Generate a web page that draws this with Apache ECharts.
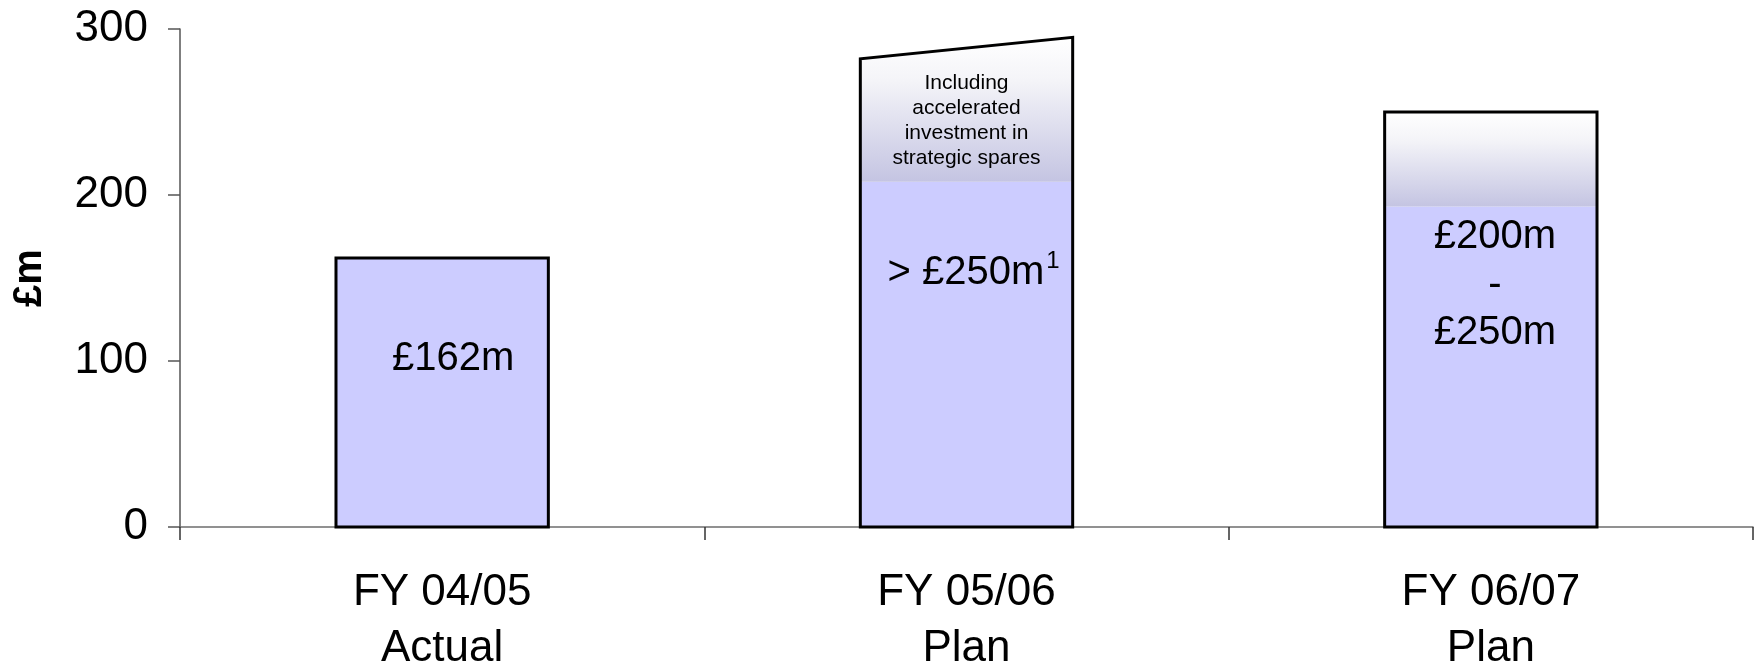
<!DOCTYPE html>
<html>
<head>
<meta charset="utf-8">
<script src="https://cdn.jsdelivr.net/npm/echarts@6/dist/echarts.min.js"></script>
<style>
  html, body { margin: 0; padding: 0; background: #ffffff; }
  #chart { width: 1755px; height: 664px; }
</style>
</head>
<body>
<div id="chart"></div>
<script>
// Capital expenditure by financial year, £m
const categories = ['FY 04/05\nActual', 'FY 05/06\nPlan', 'FY 06/07\nPlan'];
// Solid (committed) part of each bar
const solidValues = [162, 208, 193];
// Top of each bar's outline at its left and right edge (FY 05/06 rises to the right)
const topLeftValues = [162, 282, 250];
const topRightValues = [162, 295, 250];
const yTicks = [0, 100, 200, 300];
const barLabels = ['£162m', '> £250m{sup|1}', '£200m\n-\n£250m'];
const noteText = 'Including\naccelerated\ninvestment in\nstrategic spares';

const FONT = '"Liberation Sans", Arial, Helvetica, sans-serif';

// Where the in-bar labels sit: anchor on the value axis and nudge to the right
const labelAnchor = [101, 153, 146];
const labelShift = [11, 7, 4];
const noteAnchor = 245;

const seriesData = categories.map((c, i) => [i, solidValues[i], topLeftValues[i], topRightValues[i]]);

function renderBar(params, api) {
  const idx = api.value(0);
  const base = api.coord([idx, 0]);
  const cx = base[0];
  const y0 = base[1];
  const bw = api.size([1, 0])[0] * 0.405;
  const xl = cx - bw / 2;
  const xr = cx + bw / 2;
  const ySolid = api.coord([idx, api.value(1)])[1];
  const yTL = api.coord([idx, api.value(2)])[1];
  const yTR = api.coord([idx, api.value(3)])[1];

  const children = [
    {
      type: 'rect',
      shape: { x: xl, y: ySolid, width: bw, height: y0 - ySolid },
      style: { fill: '#CCCCFF' }
    }
  ];

  if (api.value(2) > api.value(1)) {
    children.push({
      type: 'polygon',
      shape: { points: [[xl, ySolid], [xl, yTL], [xr, yTR], [xr, ySolid]] },
      style: {
        fill: new echarts.graphic.LinearGradient(0, 0, 0, 1, [
          { offset: 0, color: '#FFFFFF' },
          { offset: 0.3, color: '#F4F4F8' },
          { offset: 1, color: '#C4C4E2' }
        ])
      }
    });
  }

  children.push({
    type: 'polygon',
    shape: { points: [[xl, y0], [xl, yTL], [xr, yTR], [xr, y0]] },
    style: { fill: 'none', stroke: '#000000', lineWidth: 3, lineJoin: 'miter' }
  });

  const ly = api.coord([idx, labelAnchor[idx]])[1];
  children.push({
    type: 'text',
    x: cx + labelShift[idx],
    y: ly,
    style: {
      text: barLabels[idx],
      fontFamily: FONT,
      fontSize: 40,
      lineHeight: 48,
      fill: '#000000',
      align: 'center',
      verticalAlign: 'middle',
      rich: {
        sup: { fontFamily: FONT, fontSize: 24, lineHeight: 48, verticalAlign: 'top', padding: [0, 0, 0, 2] }
      }
    }
  });

  if (idx === 1) {
    children.push({
      type: 'text',
      x: cx,
      y: api.coord([idx, noteAnchor])[1],
      style: {
        text: noteText,
        fontFamily: FONT,
        fontSize: 21,
        lineHeight: 25,
        fill: '#000000',
        align: 'center',
        verticalAlign: 'middle'
      }
    });
  }

  return { type: 'group', children: children };
}

const chart = echarts.init(document.getElementById('chart'), null, { renderer: 'canvas' });

chart.setOption({
  animation: false,
  backgroundColor: '#ffffff',
  grid: { left: 180, right: 2, top: 29, bottom: 137, containLabel: false, outerBoundsMode: 'none' },
  xAxis: {
    type: 'category',
    data: categories,
    boundaryGap: true,
    axisLine: { show: true, lineStyle: { color: '#6e6e6e', width: 1.5 } },
    axisTick: { show: true, alignWithLabel: false, length: 13, lineStyle: { color: '#333333', width: 1.5 } },
    axisLabel: {
      fontFamily: FONT,
      fontSize: 44,
      lineHeight: 56,
      color: '#000000',
      margin: 38,
      interval: 0
    },
    splitLine: { show: false }
  },
  yAxis: {
    type: 'value',
    min: yTicks[0],
    max: yTicks[yTicks.length - 1],
    interval: yTicks[1] - yTicks[0],
    name: '£m',
    nameLocation: 'middle',
    nameRotate: 90,
    nameGap: 130,
    nameTextStyle: { fontFamily: FONT, fontSize: 40, fontWeight: 'bold', color: '#000000' },
    axisLine: { show: true, lineStyle: { color: '#555555', width: 1.5 } },
    axisTick: { show: true, inside: false, length: 12, lineStyle: { color: '#555555', width: 1.5 } },
    axisLabel: { fontFamily: FONT, fontSize: 44, color: '#000000', margin: 32 },
    splitLine: { show: false }
  },
  series: [
    {
      type: 'custom',
      renderItem: renderBar,
      data: seriesData,
      encode: { x: 0, y: [1, 2, 3] },
      clip: false
    }
  ]
});
</script>
</body>
</html>
